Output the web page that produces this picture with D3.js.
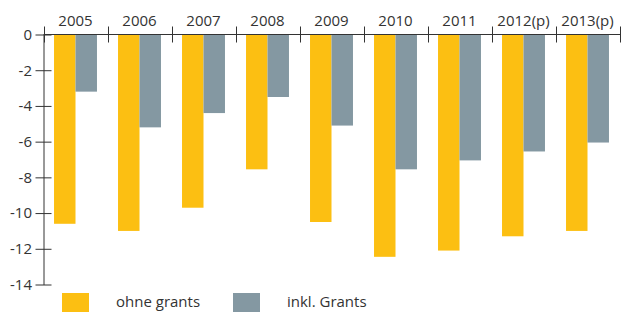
<!DOCTYPE html>
<html>
<head>
<meta charset="utf-8">
<script src="https://cdn.jsdelivr.net/npm/d3@7"></script>
<style>
  body { margin: 0; background: #fff; }
  svg { display: block; font-family: "Open Sans", sans-serif; }
  .tick text { fill: #333; }
</style>
</head>
<body>
<svg id="chart" width="621" height="312"></svg>
<script>
const years = ["2005", "2006", "2007", "2008", "2009", "2010", "2011", "2012(p)", "2013(p)"];
const ohneGrants = [-10.6, -11.0, -9.7, -7.55, -10.5, -12.45, -12.1, -11.3, -11.0];
const inklGrants = [-3.2, -5.2, -4.4, -3.5, -5.1, -7.55, -7.05, -6.55, -6.05];
const seriesNames = ["ohne grants", "inkl. Grants"];
const seriesColors = ["#fcbf12", "#8498a2"];
const yTicks = [0, -2, -4, -6, -8, -10, -12, -14];

const svg = d3.select("#chart");
const ink = "#333";

// rows for the bars
let rows = years.map((y, i) => ({year: y, values: [ohneGrants[i], inklGrants[i]]}));

let x = d3.scaleBand()
    .domain(years)
    .range([43.5, 619.5]);

let xSub = d3.scaleBand()
    .domain(seriesNames)
    .range([0, x.bandwidth()])
    .paddingOuter(0.49);

let y = d3.scaleLinear()
    .domain([-14, 0])
    .range([284.5, 34.5]);

// bars
let groups = svg.append("g").selectAll("g")
    .data(rows)
    .join("g")
    .attr("transform", d => "translate(" + x(d.year) + ",0)");

groups.selectAll("rect")
    .data(d => d.values.map((v, k) => ({name: seriesNames[k], value: v, k: k})))
    .join("rect")
    .attr("x", d => xSub(d.name))
    .attr("width", xSub.bandwidth())
    .attr("y", y(0) - 0.5)
    .attr("height", d => y(d.value) - y(0) + 0.5)
    .attr("fill", d => seriesColors[d.k]);

// y axis with crossing ticks
let yAxis = svg.append("g")
    .attr("transform", "translate(43.5,0)")
    .call(d3.axisLeft(y).tickValues(yTicks).tickFormat(d => String(d)).tickSize(8).tickSizeOuter(0).tickPadding(3.5));
yAxis.select(".domain").attr("stroke", ink);
yAxis.selectAll(".tick line").attr("x1", 8).attr("stroke", ink);
yAxis.selectAll(".tick text").attr("font-size", "15px").attr("font-family", "Open Sans, sans-serif");

// top axis line
svg.append("line")
    .attr("x1", 43.5).attr("x2", 621)
    .attr("y1", y(0)).attr("y2", y(0))
    .attr("stroke", ink);

// separators between years
let bounds = years.map(d => x(d)).concat([x(years[years.length - 1]) + x.bandwidth()]);
svg.append("g").selectAll("line")
    .data(bounds)
    .join("line")
    .attr("x1", d => Math.round(d) + 0.5).attr("x2", d => Math.round(d) + 0.5)
    .attr("y1", y(0) - 8).attr("y2", y(0) + 8)
    .attr("stroke", ink);

// year labels
let xAxis = svg.append("g")
    .attr("transform", "translate(0," + y(0) + ")")
    .call(d3.axisTop(x).tickSize(0).tickPadding(8.5));
xAxis.select(".domain").remove();
xAxis.selectAll(".tick text").attr("font-size", "15px").attr("font-family", "Open Sans, sans-serif");

// legend
let legendX = [62, 233];
let legend = svg.append("g").selectAll("g")
    .data(seriesNames)
    .join("g")
    .attr("transform", (d, i) => "translate(" + legendX[i] + ",293)");
legend.append("rect")
    .attr("width", 27).attr("height", 20)
    .attr("fill", (d, i) => seriesColors[i]);
legend.append("text")
    .attr("x", 54).attr("y", 14)
    .attr("font-size", "15px")
    .attr("fill", ink)
    .text(d => d);
</script>
</body>
</html>
